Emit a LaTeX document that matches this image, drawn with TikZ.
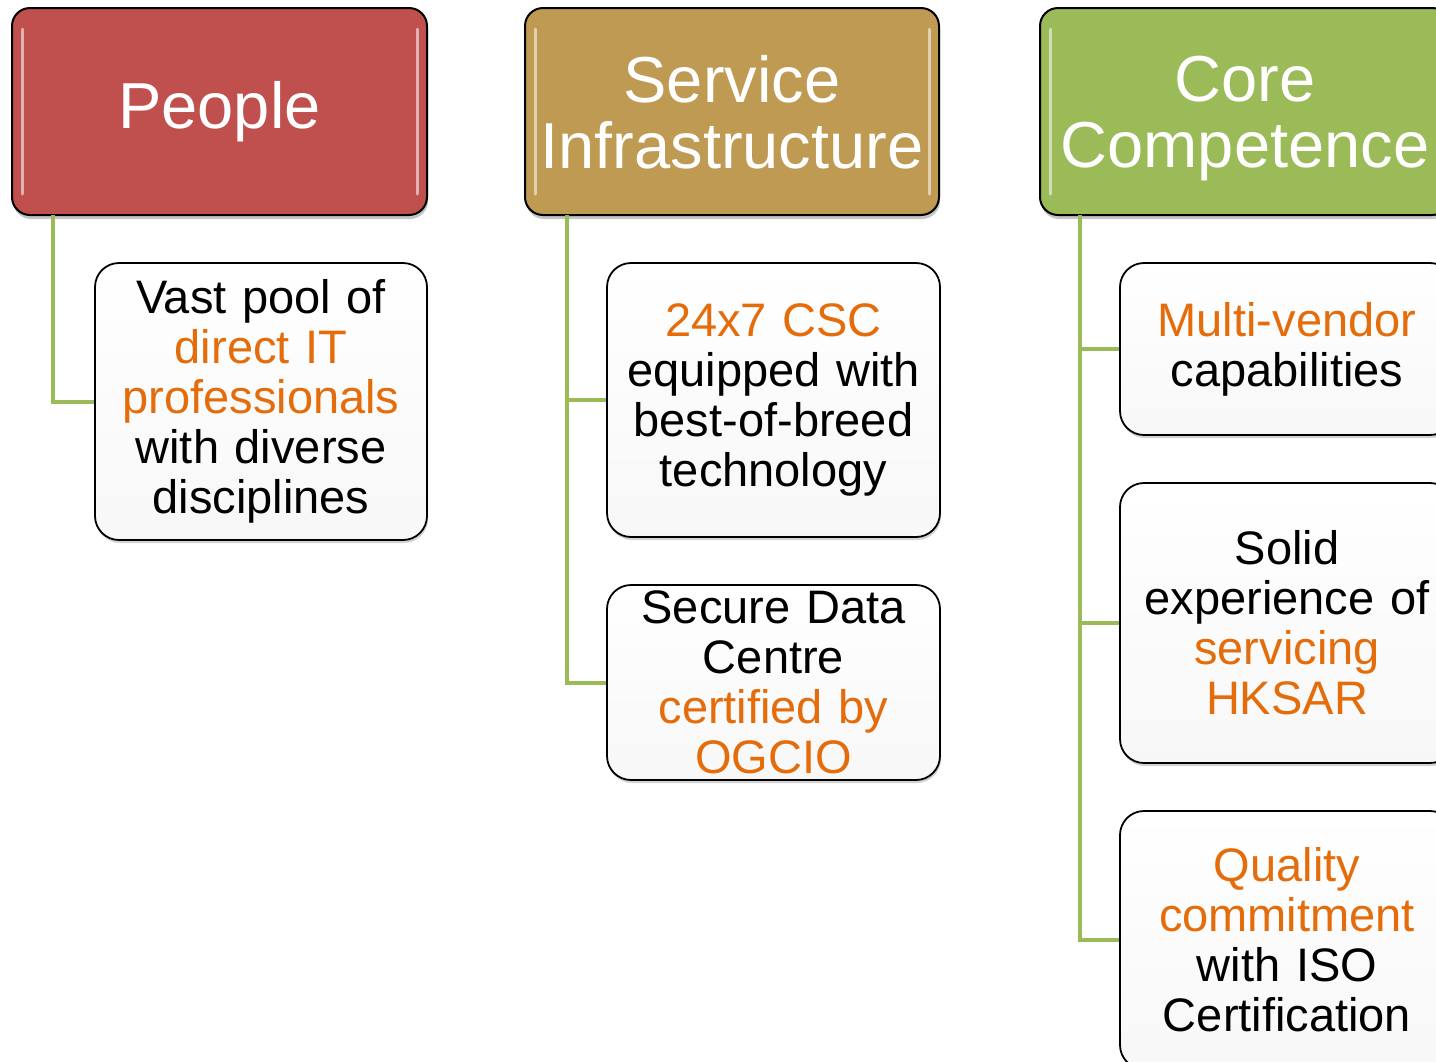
\documentclass[tikz,border=0pt]{standalone}
\usepackage{fontspec}
\setmainfont{Liberation Sans}
\usetikzlibrary{shadows}
\definecolor{hred}{HTML}{C0504D}
\definecolor{hgold}{HTML}{BF9A52}
\definecolor{hgreen}{HTML}{9BBB59}
\definecolor{orng}{HTML}{E46C0A}
\begin{document}
\begin{tikzpicture}[x=1pt,y=-1pt,
  hdr/.style={rectangle, rounded corners=18pt, draw=black, line width=2pt,
    minimum height=207pt, text=white, align=center, inner sep=0pt,
    font=\fontsize{65}{66}\selectfont,
    drop shadow={opacity=0.45, shadow xshift=1pt, shadow yshift=-4pt}},
  leaf/.style={rectangle, rounded corners=24pt, draw=black, line width=1.8pt,
    top color=white, bottom color=black!3, align=center, inner sep=0pt,
    text width=330pt, font=\fontsize{47}{50}\selectfont,
    drop shadow={opacity=0.35, shadow xshift=1pt, shadow yshift=-3pt}},
  conn/.style={draw=hgreen, line width=4pt},
  hl/.style={draw=white, opacity=0.55, line width=3pt, line cap=round}]
\useasboundingbox (0,0) rectangle (1436,1061);
\clip (0,0) rectangle (1436,1061);
\fill[white] (0,0) rectangle (1436,1061);

% headers
\node[hdr, fill=hred, minimum width=415pt] (h1) at (219.5,111.5) {People};
\node[hdr, fill=hgold, minimum width=414pt, text depth=0pt] (h2) at (732,111.5) {Service\\Infrastructure};
\node[hdr, fill=hgreen, minimum width=410pt, text depth=0pt] (h3) at (1245,111.5) {Core\\Competence};

% highlights
\foreach \h in {h1,h2,h3}{
  \draw[hl] ([xshift=11pt,yshift=-22pt]\h.north west) -- ([xshift=11pt,yshift=22pt]\h.south west);
  \draw[hl] ([xshift=-11pt,yshift=-22pt]\h.north east) -- ([xshift=-11pt,yshift=22pt]\h.south east);
}

% leaves
\node[leaf, minimum width=332pt, minimum height=277pt] (c1) at (261,401.5)
  {Vast pool of\\\textcolor{orng}{direct IT}\\\textcolor{orng}{professionals}\\with diverse\\disciplines};
\node[leaf, minimum width=333pt, minimum height=274pt] (c2) at (773.5,400)
  {\textcolor{orng}{24x7 CSC}\\equipped with\\best-of-breed\\technology};
\node[leaf, minimum width=333pt, minimum height=195pt] (c3) at (773.5,682.5)
  {Secure Data\\Centre\\\textcolor{orng}{certified by}\\\textcolor{orng}{OGCIO}};
\node[leaf, minimum width=334pt, minimum height=172pt] (c4) at (1287,349)
  {\textcolor{orng}{Multi-vendor}\\capabilities};
\node[leaf, minimum width=334pt, minimum height=280pt] (c5) at (1287,623)
  {Solid\\experience of\\\textcolor{orng}{servicing}\\\textcolor{orng}{HKSAR}};
\node[leaf, minimum width=334pt, minimum height=258pt] (c6) at (1287,940)
  {\textcolor{orng}{Quality}\\\textcolor{orng}{commitment}\\with ISO\\Certification};

% connectors
\draw[conn] ([xshift=42pt,yshift=1pt]h1.south west) |- (c1.west);
\draw[conn] ([xshift=43pt,yshift=1pt]h2.south west) |- (c2.west);
\draw[conn] ([xshift=43pt,yshift=1pt]h2.south west) |- (c3.west);
\draw[conn] ([xshift=41pt,yshift=1pt]h3.south west) |- (c4.west);
\draw[conn] ([xshift=41pt,yshift=1pt]h3.south west) |- (c5.west);
\draw[conn] ([xshift=41pt,yshift=1pt]h3.south west) |- (c6.west);
\end{tikzpicture}
\end{document}
